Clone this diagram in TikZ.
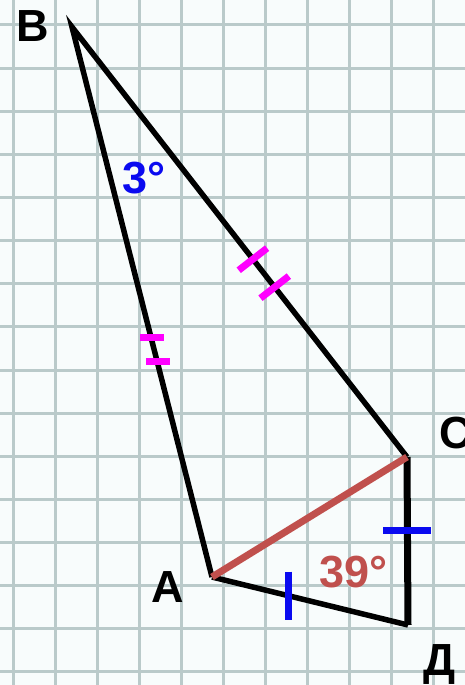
\documentclass[tikz,border=0pt]{standalone}
\usepackage{fontspec}
\setmainfont{Liberation Sans}
\usetikzlibrary{calc}
\definecolor{gridc}{RGB}{186,202,202}
\definecolor{bgc}{RGB}{248,252,252}
\definecolor{redc}{RGB}{192,80,77}
\definecolor{bluec}{RGB}{10,10,240}
\definecolor{magc}{RGB}{255,0,255}
\tikzset{
  side/.style={black, line width=5.5pt},
  diag/.style={redc, line width=7pt},
  tickm/.style={magc, line width=7pt},
  tickb/.style={bluec, line width=7pt},
  lbl/.style={font=\fontsize{45}{48}\selectfont\bfseries, inner sep=0pt, anchor=base},
  vtx/.style={inner sep=0pt, minimum size=0pt}
}
\begin{document}
\begin{tikzpicture}[x=1pt, y=-1pt]
\fill[bgc] (0,0) rectangle (465,685);
\useasboundingbox (0,0) rectangle (465,685);
\foreach \k in {0,...,10} \draw[gridc, line width=3pt] ({13.3+42*\k},0) -- ({13.3+42*\k},685);
\foreach \k in {0,...,15} \draw[gridc, line width=3pt] (0,{25+43.13*\k}) -- (465,{25+43.13*\k});
% vertices
\node[vtx] (B) at (72,27) {};
\node[vtx] (A) at (212,577) {};
\node[vtx] (C) at (407,457) {};
\node[vtx] (D) at (408,625) {};
% sides
\draw[side] (A.center) -- (B.center) -- (C.center);
\draw[side] (A.center) -- (D.center);
\draw[black, line width=7pt] (C.center) -- (D.center);
\draw[diag] (A.center) -- (C.center);
% magenta ticks on AB
\foreach \t in {0.565,0.609} {
  \coordinate (m) at ($(B)!\t!(A)$);
  \draw[tickm] ($(m)+(-11,0)$) -- ($(m)+(13,0)$);
}
% magenta ticks on BC
\foreach \t in {0.54,0.605} {
  \coordinate (m) at ($(B)!\t!(C)$);
  \draw[tickm] ($(m)!18pt!90:(C)$) -- ($(m)!18pt!-90:(C)$);
}
% blue ticks
\coordinate (ad) at ($(A)!0.39!(D)$);
\draw[tickb] ($(ad)+(0,-24)$) -- ($(ad)+(0,24)$);
\coordinate (cd) at ($(C)!0.44!(D)$);
\draw[tickb] ($(cd)+(-24,0)$) -- ($(cd)+(24,0)$);
% labels
\node[lbl] (lB) at (33,42) {B};
\node[lbl] (lA) at (168,602) {A};
\node[lbl] (lC) at (456,448) {C};
\node[lbl] (lD) at (440,675) {Д};
\node[lbl, anchor=base west, text=bluec] (a1) at (122,193) {3°};
\node[lbl, anchor=base west, text=redc] (a2) at (319,587) {39°};
\end{tikzpicture}
\end{document}
